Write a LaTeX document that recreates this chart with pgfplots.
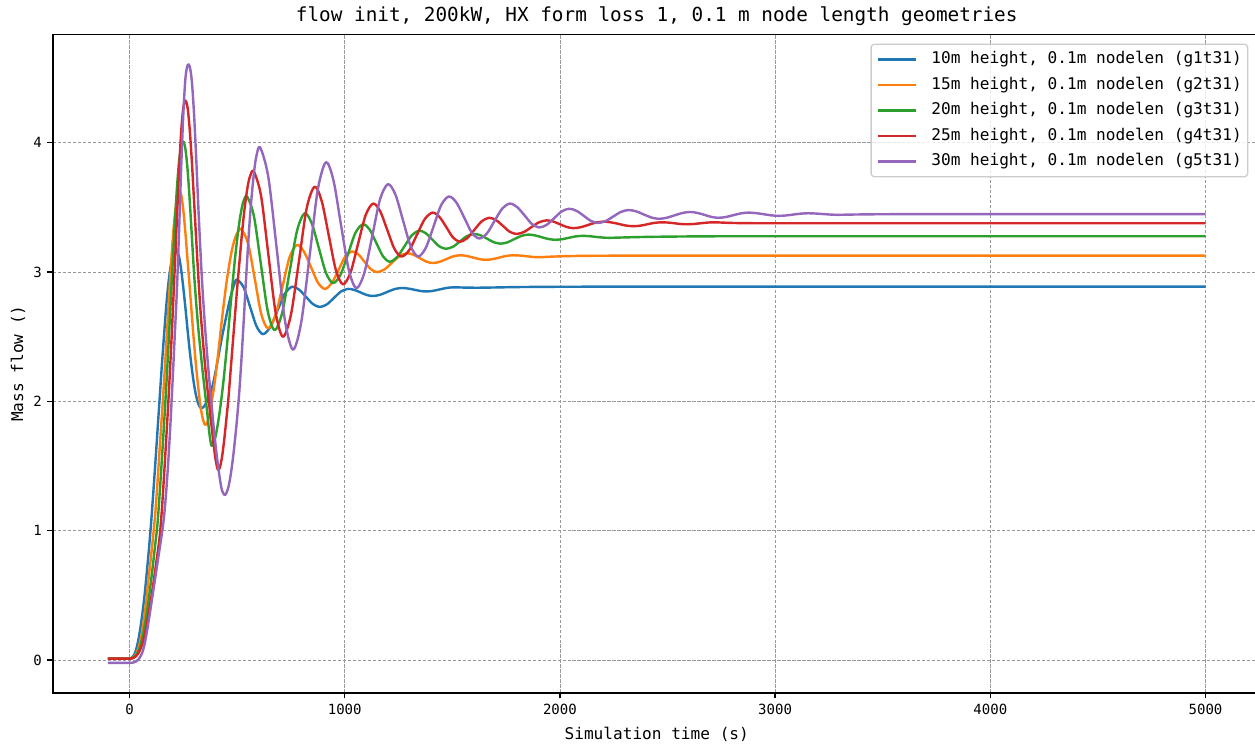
\documentclass[border=0pt]{standalone}
\usepackage{fontspec}
\setmainfont{DejaVu Sans Mono}
\usepackage{pgfplots}
\pgfplotsset{compat=1.18}
\definecolor{c1}{HTML}{1F77B4}
\definecolor{c2}{HTML}{FF7F0E}
\definecolor{c3}{HTML}{2CA02C}
\definecolor{c4}{HTML}{D62728}
\definecolor{c5}{HTML}{9467BD}
\begin{document}
\begin{tikzpicture}
\begin{axis}[
  name=ax,
  scale only axis, width=749.4pt, height=408.7pt,
  xmin=-355, xmax=5255, ymin=-0.2545, ymax=4.8385,
  xtick={0,1000,2000,3000,4000,5000}, ytick={0,1,2,3,4},
  scaled x ticks=false, scaled y ticks=false,
  /pgf/number format/1000 sep={},
  /pgf/number format/assume math mode=true,
  ticklabel style={font=\fontsize{8.7}{10}\selectfont},
  tick align=outside, tick pos=left,
  major tick length=3.5pt,
  every tick/.style={black, line width=0.8pt},
  axis line style={line width=1pt},
  grid=major,
  major grid style={black!40, line width=0.5pt, dash pattern=on 2.1pt off 1pt},
  title={flow init, 200kW, HX form loss 1, 0.1 m node length geometries},
  every axis title/.style={at={(axis description cs:0.5,1)}, anchor=center, yshift=11pt, font=\fontsize{12}{14}\selectfont},
  xlabel={Simulation time (s)}, ylabel={Mass flow ()},
  every axis x label/.style={at={(axis description cs:0.5,-0.0636)}, anchor=center, font=\fontsize{10}{12}\selectfont},
  every axis y label/.style={at={(axis description cs:-0.0291,0.5)}, rotate=90, anchor=center, font=\fontsize{10}{12}\selectfont},
  legend cell align=left,
  legend image code/.code={\draw[#1, line width=1.5pt] (0pt,0pt) -- (23.5pt,0pt);},
  legend style={at={(0.99,0.986)}, anchor=north east, draw=black!20, line width=0.8pt, rounded corners=2pt, fill=white, fill opacity=0.8, text opacity=1, font=\fontsize{10}{12}\selectfont, inner xsep=3.7pt, inner ysep=4.5pt, row sep=5.8pt, column sep=8.7pt, nodes={inner sep=0pt, text height=7.6pt, text depth=2.4pt}},
]
\addplot[c1, line width=1.5pt, smooth, line join=round] coordinates {
(-100,0.01) (-80,0.01) (-60,0.01) (-40,0.01) (-20,0.01) (0,0.01) (10,0.016) (20,0.035) (30,0.075) (40,0.145) (50,0.24) (60,0.36) (70,0.5) (80,0.67) (90,0.85) (100,1.05) (110,1.28) (120,1.52) (130,1.77) (140,2.02) (150,2.27) (160,2.5) (170,2.72) (180,2.9) (190,3.03) (200,3.11) (210,3.15) (220,3.16) (230,3.12) (240,3.02) (250,2.88) (260,2.72) (270,2.55) (280,2.39) (290,2.25) (300,2.13) (310,2.04) (320,1.98) (330,1.95) (340,1.95) (350,1.97) (360,2.0) (370,2.04) (380,2.08) (390,2.15) (400,2.23) (410,2.32) (420,2.41) (430,2.5) (440,2.58) (450,2.66) (460,2.74) (470,2.81) (480,2.87) (490,2.92) (500,2.943) (530,2.883) (560,2.733) (590,2.582) (620,2.52) (654,2.574) (688,2.704) (722,2.833) (756,2.887) (788,2.864) (820,2.809) (852,2.753) (884,2.73) (917,2.75) (950,2.8) (983,2.85) (1016,2.87) (1045,2.862) (1073,2.843) (1102,2.823) (1130,2.815) (1164,2.824) (1197,2.846) (1231,2.868) (1264,2.877) (1293,2.873) (1322,2.864) (1351,2.854) (1380,2.85) (1411,2.855) (1442,2.866) (1473,2.877) (1504,2.882) (1560,2.88) (1620,2.879) (1700,2.881) (1800,2.884) (1950,2.886) (2150,2.887) (2450,2.887) (2850,2.887) (3300,2.887) (3800,2.887) (4300,2.887) (5000,2.887)
};
\addlegendentry{10m height, 0.1m nodelen (g1t31)}
\addplot[c2, line width=1.5pt, smooth, line join=round] coordinates {
(-100,0.01) (-80,0.01) (-60,0.01) (-40,0.01) (-20,0.01) (0,0.01) (10,0.013) (20,0.024) (30,0.045) (40,0.085) (50,0.145) (60,0.23) (70,0.35) (80,0.49) (90,0.65) (100,0.8) (110,0.96) (120,1.14) (130,1.37) (140,1.63) (150,1.88) (160,2.14) (170,2.42) (180,2.7) (190,2.98) (200,3.23) (210,3.43) (220,3.56) (230,3.61) (240,3.6) (250,3.48) (260,3.3) (270,3.09) (280,2.88) (290,2.66) (300,2.45) (310,2.26) (320,2.1) (330,1.96) (340,1.87) (350,1.82) (360,1.83) (370,1.89) (380,1.98) (390,2.08) (400,2.2) (410,2.34) (420,2.49) (430,2.64) (440,2.78) (450,2.91) (460,3.02) (470,3.12) (480,3.2) (490,3.26) (500,3.3) (510,3.325) (520,3.333) (551,3.221) (582,2.949) (612,2.677) (643,2.565) (677,2.659) (711,2.888) (744,3.116) (778,3.21) (810,3.16) (843,3.04) (875,2.92) (907,2.87) (939,2.912) (971,3.015) (1002,3.118) (1034,3.16) (1063,3.137) (1092,3.08) (1121,3.023) (1150,3.0) (1185,3.021) (1220,3.073) (1255,3.124) (1290,3.145) (1320,3.134) (1349,3.108) (1379,3.081) (1408,3.07) (1440,3.079) (1472,3.1) (1503,3.121) (1535,3.13) (1565,3.125) (1596,3.113) (1626,3.1) (1656,3.095) (1688,3.1) (1720,3.113) (1751,3.125) (1783,3.13) (1813,3.128) (1844,3.123) (1874,3.117) (1904,3.115) (1970,3.12) (2050,3.124) (2150,3.126) (2300,3.127) (2500,3.127) (2800,3.127) (3200,3.127) (3700,3.127) (4200,3.127) (5000,3.127)
};
\addlegendentry{15m height, 0.1m nodelen (g2t31)}
\addplot[c3, line width=1.5pt, smooth, line join=round] coordinates {
(-100,0.01) (-80,0.01) (-60,0.01) (-40,0.01) (-20,0.01) (0,0.01) (10,0.012) (20,0.02) (30,0.036) (40,0.065) (50,0.11) (60,0.175) (70,0.26) (80,0.36) (90,0.48) (100,0.61) (110,0.75) (120,0.9) (130,1.05) (140,1.28) (150,1.54) (160,1.81) (170,2.09) (180,2.4) (190,2.72) (200,3.05) (210,3.36) (220,3.64) (230,3.85) (240,3.97) (250,4.01) (260,3.95) (270,3.79) (280,3.55) (290,3.27) (300,2.99) (310,2.76) (320,2.56) (330,2.39) (340,2.23) (350,2.08) (360,1.93) (370,1.77) (380,1.66) (390,1.67) (400,1.73) (410,1.82) (420,1.93) (430,2.06) (440,2.21) (450,2.38) (460,2.56) (470,2.75) (480,2.93) (490,3.1) (500,3.25) (510,3.38) (520,3.48) (530,3.55) (546,3.585) (578,3.434) (610,3.068) (642,2.701) (674,2.55) (709,2.682) (744,3.003) (779,3.323) (814,3.455) (847,3.376) (880,3.185) (913,2.994) (946,2.915) (981,2.981) (1016,3.143) (1050,3.304) (1085,3.37) (1116,3.328) (1147,3.225) (1178,3.122) (1209,3.08) (1243,3.115) (1278,3.2) (1312,3.285) (1346,3.32) (1377,3.3) (1408,3.25) (1439,3.2) (1470,3.18) (1504,3.197) (1536,3.238) (1568,3.278) (1601,3.295) (1632,3.284) (1662,3.258) (1693,3.231) (1724,3.22) (1756,3.23) (1788,3.255) (1821,3.28) (1853,3.29) (1884,3.284) (1915,3.27) (1946,3.256) (1977,3.25) (2009,3.254) (2041,3.265) (2073,3.276) (2105,3.28) (2136,3.278) (2167,3.272) (2199,3.267) (2230,3.265) (2300,3.268) (2400,3.272) (2550,3.275) (2750,3.277) (3050,3.277) (3450,3.277) (3950,3.277) (4450,3.277) (5000,3.277)
};
\addlegendentry{20m height, 0.1m nodelen (g3t31)}
\addplot[c4, line width=1.5pt, smooth, line join=round] coordinates {
(-100,0.01) (-80,0.01) (-60,0.01) (-40,0.01) (-20,0.01) (0,0.01) (10,0.011) (20,0.017) (30,0.028) (40,0.048) (50,0.08) (60,0.125) (70,0.19) (80,0.27) (90,0.37) (100,0.47) (110,0.58) (120,0.7) (130,0.82) (140,0.95) (150,1.15) (160,1.41) (170,1.69) (180,1.98) (190,2.3) (200,2.65) (210,3.02) (220,3.4) (230,3.77) (240,4.08) (250,4.27) (260,4.326) (270,4.27) (280,4.1) (290,3.85) (300,3.55) (310,3.25) (320,2.96) (330,2.7) (340,2.49) (350,2.3) (360,2.13) (370,1.98) (380,1.83) (390,1.68) (400,1.55) (411,1.47) (420,1.49) (430,1.57) (440,1.7) (450,1.86) (460,2.03) (470,2.24) (480,2.45) (490,2.66) (500,2.87) (510,3.06) (520,3.25) (530,3.42) (540,3.56) (550,3.67) (560,3.74) (577,3.78) (611,3.593) (645,3.14) (679,2.687) (713,2.5) (750,2.669) (787,3.08) (823,3.491) (860,3.66) (893,3.55) (926,3.283) (959,3.015) (992,2.905) (1027,2.996) (1062,3.218) (1097,3.439) (1132,3.53) (1165,3.47) (1198,3.325) (1231,3.18) (1264,3.12) (1300,3.17) (1336,3.29) (1372,3.41) (1408,3.46) (1440,3.427) (1472,3.348) (1503,3.268) (1535,3.235) (1569,3.262) (1603,3.328) (1637,3.393) (1671,3.42) (1703,3.402) (1735,3.358) (1766,3.313) (1798,3.295) (1833,3.31) (1868,3.348) (1903,3.385) (1938,3.4) (1969,3.391) (2000,3.37) (2031,3.349) (2062,3.34) (2097,3.347) (2132,3.365) (2167,3.383) (2202,3.39) (2236,3.385) (2272,3.373) (2306,3.36) (2341,3.355) (2374,3.359) (2407,3.37) (2440,3.381) (2473,3.385) (2502,3.383) (2531,3.378) (2560,3.372) (2589,3.37) (2622,3.372) (2655,3.378) (2687,3.383) (2720,3.385) (2800,3.38) (2900,3.378) (3050,3.378) (3250,3.378) (3550,3.378) (3950,3.378) (4450,3.378) (5000,3.378)
};
\addlegendentry{25m height, 0.1m nodelen (g4t31)}
\addplot[c5, line width=1.5pt, smooth, line join=round] coordinates {
(-100,-0.023) (-80,-0.023) (-60,-0.023) (-40,-0.023) (-20,-0.023) (0,-0.023) (10,-0.022) (20,-0.019) (30,-0.012) (40,0.0) (50,0.025) (60,0.06) (70,0.12) (80,0.21) (90,0.31) (100,0.42) (110,0.53) (120,0.64) (130,0.75) (140,0.86) (150,0.97) (160,1.1) (170,1.29) (180,1.53) (190,1.82) (200,2.15) (210,2.5) (220,2.85) (230,3.3) (240,3.8) (250,4.22) (260,4.5) (270,4.6) (280,4.59) (290,4.47) (300,4.22) (310,3.88) (320,3.5) (330,3.15) (340,2.85) (350,2.6) (360,2.38) (370,2.18) (380,2.0) (390,1.82) (400,1.66) (410,1.52) (420,1.4) (430,1.31) (442,1.276) (450,1.29) (460,1.34) (470,1.43) (480,1.55) (490,1.7) (500,1.87) (510,2.07) (520,2.32) (530,2.6) (540,2.9) (550,3.18) (560,3.43) (570,3.63) (580,3.79) (590,3.9) (607,3.965) (645,3.736) (684,3.183) (722,2.629) (760,2.4) (798,2.612) (837,3.125) (875,3.638) (913,3.85) (948,3.708) (983,3.363) (1019,3.017) (1054,2.875) (1091,2.993) (1128,3.278) (1164,3.562) (1201,3.68) (1236,3.598) (1271,3.4) (1306,3.202) (1341,3.12) (1377,3.188) (1413,3.353) (1448,3.517) (1484,3.585) (1519,3.538) (1555,3.423) (1590,3.307) (1625,3.26) (1661,3.299) (1696,3.395) (1732,3.491) (1767,3.53) (1801,3.503) (1836,3.438) (1870,3.372) (1904,3.345) (1939,3.366) (1974,3.418) (2008,3.469) (2043,3.49) (2077,3.474) (2111,3.435) (2144,3.396) (2178,3.38) (2213,3.395) (2248,3.43) (2283,3.465) (2318,3.48) (2354,3.47) (2389,3.446) (2425,3.422) (2460,3.412) (2496,3.42) (2533,3.439) (2569,3.457) (2605,3.465) (2638,3.458) (2671,3.443) (2703,3.427) (2736,3.42) (2771,3.426) (2806,3.44) (2841,3.454) (2876,3.46) (2911,3.456) (2946,3.448) (2981,3.439) (3016,3.435) (3050,3.438) (3085,3.445) (3119,3.452) (3153,3.455) (3187,3.453) (3222,3.449) (3256,3.445) (3290,3.443) (3360,3.445) (3460,3.447) (3600,3.448) (3800,3.448) (4100,3.448) (4500,3.448) (5000,3.448)
};
\addlegendentry{30m height, 0.1m nodelen (g5t31)}
\end{axis}
\pgfresetboundingbox
\path[use as bounding box] ([xshift=-32.96pt, yshift=-31.7pt]ax.south west) rectangle ([xshift=-3.35pt, yshift=21.35pt]ax.north east);
\end{tikzpicture}
\end{document}
